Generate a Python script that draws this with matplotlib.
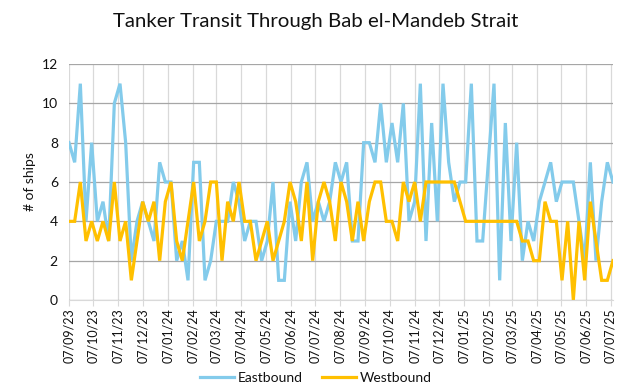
import matplotlib
matplotlib.use("Agg")
import matplotlib.pyplot as plt
import matplotlib.dates as mdates
import pandas as pd

# Weekly tanker counts, starting 7 Sep 2023
start_date = "2023-09-07"

eastbound = [8, 7, 11, 4, 8, 4, 5, 3, 10, 11,
             8, 2, 4, 5, 4, 3, 7, 6, 6, 2,
             3, 1, 7, 7, 1, 2, 4, 4, 4, 6,
             5, 3, 4, 4, 2, 3, 6, 1, 1, 5,
             3, 6, 7, 4, 5, 4, 5, 7, 6, 7,
             3, 3, 8, 8, 7, 10, 7, 9, 7, 10,
             4, 5, 11, 3, 9, 4, 11, 7, 5, 6,
             6, 11, 3, 3, 7, 11, 1, 9, 3, 8,
             2, 4, 3, 5, 6, 7, 5, 6, 6, 6,
             4, 2, 7, 2, 5, 7, 6]

westbound = [4, 4, 6, 3, 4, 3, 4, 3, 6, 3,
             4, 1, 3, 5, 4, 5, 2, 5, 6, 3,
             2, 4, 6, 3, 4, 6, 6, 2, 5, 4,
             6, 4, 4, 2, 3, 4, 2, 3, 4, 6,
             5, 3, 6, 2, 5, 6, 5, 3, 6, 5,
             3, 5, 3, 5, 6, 6, 4, 4, 3, 6,
             5, 6, 4, 6, 6, 6, 6, 6, 6, 5,
             4, 4, 4, 4, 4, 4, 4, 4, 4, 4,
             3, 3, 2, 2, 5, 4, 4, 1, 4, 0,
             4, 1, 5, 3, 1, 1, 2]

dates = pd.date_range(start_date, periods=len(eastbound), freq="7D")

plt.rcParams["font.family"] = ["Lato", "DejaVu Sans"]
text_color = "#111111"

fig = plt.figure(figsize=(6.32, 3.9), dpi=100)
ax = fig.add_axes([69 / 632, 1 - 300 / 390, (613 - 69) / 632, (300 - 64) / 390])

ax.plot(dates, eastbound, color="#83cbeb", lw=2.3, label="Eastbound", solid_joinstyle="miter")
ax.plot(dates, westbound, color="#ffc000", lw=2.3, label="Westbound", solid_joinstyle="miter")

ax.set_xlim(dates[0], dates[-1])
ax.set_ylim(0, 12)
ax.set_yticks(range(0, 13, 2))

ax.xaxis.set_major_locator(mdates.MonthLocator(bymonthday=7))
ax.xaxis.set_major_formatter(mdates.DateFormatter("%d/%m/%y"))
plt.setp(ax.get_xticklabels(), rotation=90)

ax.grid(axis="y", color="#a6a6a6", lw=0.9)
ax.grid(axis="x", color="#d9d9d9", lw=0.9)
ax.set_axisbelow(True)

for side in ["top", "right", "left"]:
    ax.spines[side].set_visible(False)
ax.spines["bottom"].set_color("#d9d9d9")

ax.tick_params(axis="x", length=4, color="#d9d9d9", labelsize=9, labelcolor=text_color, pad=2)
ax.tick_params(axis="y", length=0, labelsize=10, labelcolor=text_color, pad=8)

ax.set_ylabel("# of ships", fontsize=10, color=text_color, labelpad=4)

fig.text(0.5, 1 - 22 / 390, "Tanker Transit Through Bab el-Mandeb Strait",
         ha="center", va="center", fontsize=14.7, color=text_color)

fig.legend(loc="center", bbox_to_anchor=(0.5, 1 - 378 / 390), ncol=2, frameon=False,
           fontsize=10, handlelength=2.4, columnspacing=1.4, handletextpad=0.3,
           labelcolor=text_color)

fig.savefig("out.png", dpi=100)
